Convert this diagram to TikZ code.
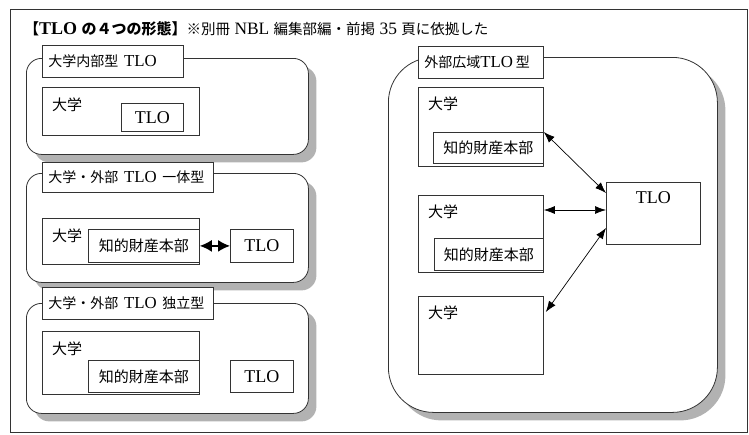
\documentclass[tikz,border=0pt]{standalone}
\usepackage{fontspec}
\setmainfont{Liberation Serif}[Scale=1.2]
\newfontfamily\jpfont{Noto Sans CJK JP}
\usetikzlibrary{arrows.meta,shadows}

\newcommand{\ja}[1]{{\jpfont #1}}

\tikzset{
  boxline/.style={draw=black!80, line width=0.8pt, fill=white},
  panel/.style={boxline, anchor=north west, inner sep=0pt, rounded corners=15pt,
    drop shadow={shadow xshift=8pt, shadow yshift=-8pt, fill=black!30, opacity=1}},
  heading/.style={boxline, anchor=north west, inner xsep=6pt, inner ysep=0pt, align=left,
    font=\fontsize{14}{16}\selectfont},
  unibox/.style={boxline, anchor=north west, inner sep=0pt},
  unilabel/.style={anchor=north west, inner sep=0pt, font=\fontsize{15}{17}\selectfont\jpfont},
  ipbox/.style={boxline, anchor=north west, inner sep=0pt, font=\fontsize{15}{17}\selectfont\jpfont},
  tlobox/.style={boxline, anchor=north west, inner sep=0pt, font=\fontsize{15}{17}\selectfont},
  link/.style={{Latex[length=11pt,width=8pt]}-{Latex[length=11pt,width=8pt]}, line width=0.7pt},
  boldlink/.style={{Latex[length=12pt,width=12pt]}-{Latex[length=12pt,width=12pt]}, line width=1.6pt},
}

\begin{document}
\begin{tikzpicture}[x=1pt, y=-1pt]
\useasboundingbox (0,0) rectangle (749,434);
\draw[black!80, line width=0.8pt] (10,9) rectangle (747,432);

% title line
\node[anchor=west, inner sep=0pt] (title) at (24,29)
  {\fontsize{15}{18}\selectfont\bfseries\ja{【}TLO \ja{の４つの形態】}%
   \fontsize{14.5}{16}\selectfont\mdseries\ja{※別冊} NBL \ja{編集部編・前掲} 35 \ja{頁に依拠した}};

% inside type
\node[panel, minimum width=282pt, minimum height=96pt] (p1) at (26,58) {};
\node[heading, text width=129pt, minimum height=32pt] (h1) at (42,45) {\ja{大学内部型} TLO};
\node[unibox, minimum width=157pt, minimum height=48pt] (u1) at (42,87) {};
\node[unilabel] (l1) at ([shift={(10,11)}]u1.north west) {大学};
\node[tlobox, minimum width=62pt, minimum height=28pt] (t1) at (121,103) {TLO};

% united type
\node[panel, minimum width=282pt, minimum height=109pt] (p2) at (26,173) {};
\node[heading, text width=159pt, minimum height=30pt] (h2) at (42,162) {\ja{大学・外部} TLO \ja{一体型}};
\node[unibox, minimum width=157pt, minimum height=46pt] (u2) at (42,218) {};
\node[unilabel] (l2) at ([shift={(10,11)}]u2.north west) {大学};
\node[ipbox, minimum width=111pt, minimum height=33pt] (ip2) at (88,229) {知的財産本部};
\node[tlobox, minimum width=63pt, minimum height=33pt] (t2) at (230,229) {TLO};
\draw[boldlink] (ip2) -- (t2);

% independent type
\node[panel, minimum width=282pt, minimum height=110pt] (p3) at (26,303) {};
\node[heading, text width=159pt, minimum height=32pt] (h3) at (42,287) {\ja{大学・外部} TLO \ja{独立型}};
\node[unibox, minimum width=157pt, minimum height=63pt] (u3) at (42,331) {};
\node[unilabel] (l3) at ([shift={(10,11)}]u3.north west) {大学};
\node[ipbox, minimum width=111pt, minimum height=32pt] (ip3) at (88,360) {知的財産本部};
\node[tlobox, minimum width=63pt, minimum height=32pt] (t3) at (230,360) {TLO};

% wide area type
\node[panel, rounded corners=45pt, minimum width=329pt, minimum height=355pt] (p4) at (388,57) {};
\node[heading, text width=113pt, minimum height=32pt] (h4) at (418,46) {\ja{外部広域}TLO\,\ja{型}};
\node[unibox, minimum width=125pt, minimum height=79pt] (u4a) at (418,87) {};
\node[unilabel] (l4a) at ([shift={(10,10)}]u4a.north west) {大学};
\node[ipbox, minimum width=110pt, minimum height=31pt] (ip4a) at (433,132) {知的財産本部};
\node[unibox, minimum width=125pt, minimum height=77pt] (u4b) at (418,195) {};
\node[unilabel] (l4b) at ([shift={(10,10)}]u4b.north west) {大学};
\node[ipbox, minimum width=109pt, minimum height=32pt] (ip4b) at (434,238) {知的財産本部};
\node[unibox, minimum width=125pt, minimum height=78pt] (u4c) at (418,296) {};
\node[unilabel] (l4c) at ([shift={(10,10)}]u4c.north west) {大学};
\node[unibox, minimum width=94pt, minimum height=62pt] (t4) at (606,182) {};
\node[inner sep=0pt, font=\fontsize{15}{17}\selectfont] (t4l) at ([shift={(0,16)}]t4.north) {TLO};

\draw[link] (ip4a.north east) -- ([shift={(0,11)}]t4.north west);
\draw[link] ([shift={(0,15)}]u4b.north east) -- ([shift={(0,28)}]t4.north west);
\draw[link] ([shift={(2,16)}]u4c.north east) -- ([shift={(0,46)}]t4.north west);
\end{tikzpicture}
\end{document}
